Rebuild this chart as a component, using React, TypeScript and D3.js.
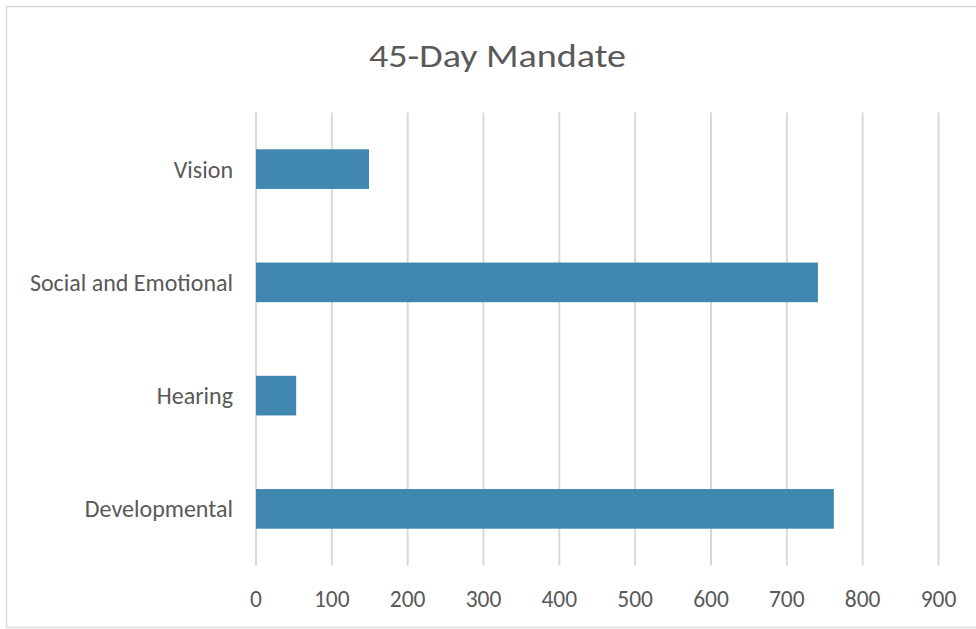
import React from "react";
import * as d3 from "d3";

const categories = ["Vision", "Social and Emotional", "Hearing", "Developmental"];
const values = [149, 741, 53, 762];
const xTicks = [0, 100, 200, 300, 400, 500, 600, 700, 800, 900];
const title = "45-Day Mandate";

const W = 976;
const H = 629;
const plot = { left: 256, right: 938.5, top: 112.5, bottom: 565.5 };
const FONT = "Carlito, Calibri, 'Noto Sans', 'Open Sans', sans-serif";
const TEXT = "#595959";
const GRID = "#d9d9d9";
const BAR = "#3f87b1";

export default function App() {
  const x = d3.scaleLinear().domain([0, 900]).range([plot.left, plot.right]);
  const y = d3
    .scaleBand<string>()
    .domain(categories)
    .range([plot.top, plot.bottom])
    .paddingInner(0.65)
    .paddingOuter(0.325);

  return (
    <svg
      width={W}
      height={H}
      style={{ position: "absolute", left: 0, top: 0, background: "#fff" }}
      fontFamily={FONT}
    >
      <rect x={6.5} y={6.5} width={W + 10} height={621} fill="#fff" stroke={GRID} strokeWidth={1.5} />
      <text
        x={(369 + 626) / 2}
        y={67}
        textAnchor="middle"
        fontSize={32}
        fill={TEXT}
        textLength={257}
        lengthAdjust="spacingAndGlyphs"
      >
        {title}
      </text>
      {xTicks.map((t) => (
        <g key={t}>
          <line x1={x(t)} x2={x(t)} y1={plot.top} y2={plot.bottom} stroke={GRID} strokeWidth={2} />
          <text x={x(t)} y={607} textAnchor="middle" fontSize={23.5} fill={TEXT}>
            {t}
          </text>
        </g>
      ))}
      {categories.map((c, i) => (
        <g key={c}>
          <rect x={x(0)} y={y(c)!} width={x(values[i]) - x(0)} height={y.bandwidth()} fill={BAR} />
          <text
            x={233}
            y={y(c)! + y.bandwidth() / 2}
            dy="0.35em"
            textAnchor="end"
            fontSize={24}
            fill={TEXT}
          >
            {c}
          </text>
        </g>
      ))}
    </svg>
  );
}
